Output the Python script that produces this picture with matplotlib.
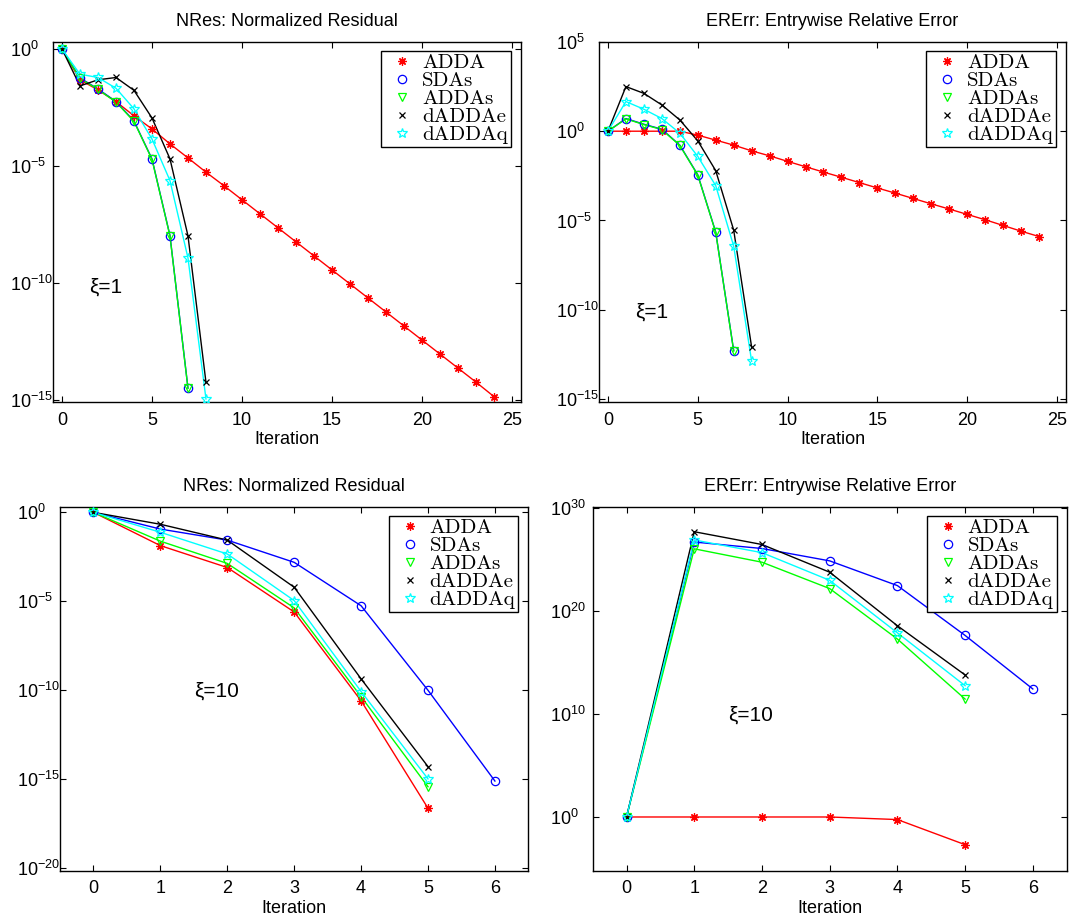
import matplotlib
matplotlib.use("Agg")
import numpy as np
import matplotlib.pyplot as plt
from matplotlib.ticker import NullLocator

plt.rcParams["font.family"] = ["Liberation Sans", "DejaVu Sans"]
plt.rcParams["mathtext.fontset"] = "custom"
plt.rcParams["mathtext.rm"] = "Liberation Sans"
plt.rcParams["mathtext.it"] = "Liberation Sans:italic"
plt.rcParams["mathtext.bf"] = "Liberation Sans:bold"

# series names / styles (Matlab-like)
names = ["ADDA", "SDAs", "ADDAs", "dADDAe", "dADDAq"]
colors = ["#ff0000", "#0000ff", "#00ff00", "#000000", "#00ffff"]
markers = [(8, 2, 0), "o", "v", "x", "*"]
msizes = [6, 6, 6, 4.5, 7.5]

# ---- values are log10 of the plotted quantity ----
# xi = 1, NRes
nres1_adda = [0, -1.32, -1.75, -2.25, -2.86, -3.42, -4.06, -4.66, -5.27, -5.85,
              -6.45, -7.05, -7.65, -8.25, -8.85, -9.45, -10.05, -10.65, -11.25,
              -11.85, -12.45, -13.05, -13.65, -14.25, -14.87]
nres1_sdas = [0, -1.24, -1.71, -2.25, -3.08, -4.70, -7.98, -14.50]
nres1_addas = [0, -1.26, -1.73, -2.27, -3.10, -4.72, -8.00, -14.52]
nres1_dadae = [0, -1.58, -1.32, -1.22, -1.77, -2.95, -4.70, -7.99, -14.26]
nres1_dadaq = [0, -1.08, -1.22, -1.68, -2.56, -3.85, -5.63, -8.94, -14.97]

# xi = 1, ERErr
err1_adda = [0, 0, 0, 0, 0, -0.22, -0.50, -0.78, -1.10, -1.38, -1.69, -1.99,
             -2.29, -2.58, -2.88, -3.18, -3.47, -3.77, -4.07, -4.36, -4.66,
             -4.96, -5.28, -5.60, -5.90]
err1_sdas = [0, 0.71, 0.39, 0.11, -0.78, -2.44, -5.65, -12.29]
err1_addas = [0, 0.69, 0.37, 0.09, -0.80, -2.46, -5.67, -12.31]
err1_dadae = [0, 2.50, 2.12, 1.47, 0.63, -0.54, -2.21, -5.54, -12.10]
err1_dadaq = [0, 1.66, 1.23, 0.71, -0.11, -1.41, -3.05, -6.44, -12.89]

# xi = 10, NRes
nres10_adda = [0, -1.87, -3.10, -5.60, -10.59, -16.63]
nres10_sdas = [0, -0.94, -1.56, -2.81, -5.25, -10.00, -15.10]
nres10_addas = [0, -1.62, -2.87, -5.37, -10.36, -15.42]
nres10_dadae = [0, -0.67, -1.56, -4.21, -9.36, -14.29]
nres10_dadaq = [0, -1.12, -2.34, -4.96, -10.07, -14.98]

# xi = 10, ERErr
err10_adda = [0, 0, 0, 0, -0.25, -2.69]
err10_sdas = [0, 26.70, 26.07, 24.87, 22.47, 17.63, 12.43]
err10_addas = [0, 26.04, 24.74, 22.18, 17.28, 11.45]
err10_dadae = [0, 27.70, 26.46, 23.77, 18.57, 13.79]
err10_dadaq = [0, 26.90, 25.67, 22.98, 17.88, 12.75]

panels = [
    dict(title="NRes: Normalized Residual", data=[nres1_adda, nres1_sdas, nres1_addas, nres1_dadae, nres1_dadaq],
         rect=[0.0495, 0.5621, 0.4374, 0.3922], xlim=(-0.5, 25.5), xticks=range(0, 26, 5),
         ylim=(-15.1, 0.3), yticks=[0, -5, -10, -15], label="ξ=1", ytxt=-10.2),
    dict(title="ERErr: Entrywise Relative Error", data=[err1_adda, err1_sdas, err1_addas, err1_dadae, err1_dadaq],
         rect=[0.5598, 0.5621, 0.4364, 0.3922], xlim=(-0.5, 25.5), xticks=range(0, 26, 5),
         ylim=(-15.17, 5.0), yticks=[5, 0, -5, -10, -15], label="ξ=1", ytxt=-10.15),
    dict(title="NRes: Normalized Residual", data=[nres10_adda, nres10_sdas, nres10_addas, nres10_dadae, nres10_dadaq],
         rect=[0.0561, 0.0517, 0.4377, 0.3960], xlim=(-0.5, 6.5), xticks=range(0, 7),
         ylim=(-20.13, 0.3), yticks=[0, -5, -10, -15, -20], label="ξ=10", ytxt=-10.05),
    dict(title="ERErr: Entrywise Relative Error", data=[err10_adda, err10_sdas, err10_addas, err10_dadae, err10_dadaq],
         rect=[0.5539, 0.0517, 0.4430, 0.3960], xlim=(-0.5, 6.5), xticks=range(0, 7),
         ylim=(-5.2, 30.1), yticks=[0, 10, 20, 30], label="ξ=10", ytxt=9.9),
]

fig = plt.figure(figsize=(10.7, 9.18), dpi=100)

for p in panels:
    ax = fig.add_axes(p["rect"])
    ax.set_yscale("log")
    for k, vals in enumerate(p["data"]):
        x = np.arange(len(vals))
        y = 10.0 ** np.array(vals)
        ax.plot(x, y, color=colors[k], lw=1.0, zorder=2)
        ax.plot(x, y, ls="none", marker=markers[k], ms=msizes[k], mec=colors[k],
                mfc="none", mew=0.9, label=names[k], zorder=3)
    ax.set_xlim(*p["xlim"])
    ax.set_ylim(10.0 ** p["ylim"][0], 10.0 ** p["ylim"][1])
    ax.set_xticks(list(p["xticks"]))
    ax.set_yticks([10.0 ** t for t in p["yticks"]])
    ax.set_yticklabels([r"$10^{%d}$" % t for t in p["yticks"]])
    ax.yaxis.set_minor_locator(NullLocator())
    ax.tick_params(which="both", direction="in", top=True, right=True, length=4.5, width=0.8,
                   labelsize=13)
    ax.tick_params(axis="x", pad=7)
    ax.tick_params(axis="y", pad=31)
    plt.setp(ax.get_yticklabels(), ha="left")
    for s in ax.spines.values():
        s.set_linewidth(1.0)
    ax.set_title(p["title"], fontsize=13, pad=11.5)
    ax.set_xlabel("Iteration", fontsize=13, labelpad=2)
    ax.text(1.5, 10.0 ** p["ytxt"], p["label"], fontsize=15, ha="left", va="center")
    leg = ax.legend(loc="upper right", bbox_to_anchor=(0.9786, 0.976), borderaxespad=0,
                    prop={"family": "cmr10", "size": 15}, labelspacing=-0.03,
                    handlelength=1.7, handletextpad=0.1, borderpad=0.15,
                    fancybox=False, framealpha=1, edgecolor="black", numpoints=1)
    leg.get_frame().set_linewidth(1.0)

fig.savefig("out.png", dpi=100)
